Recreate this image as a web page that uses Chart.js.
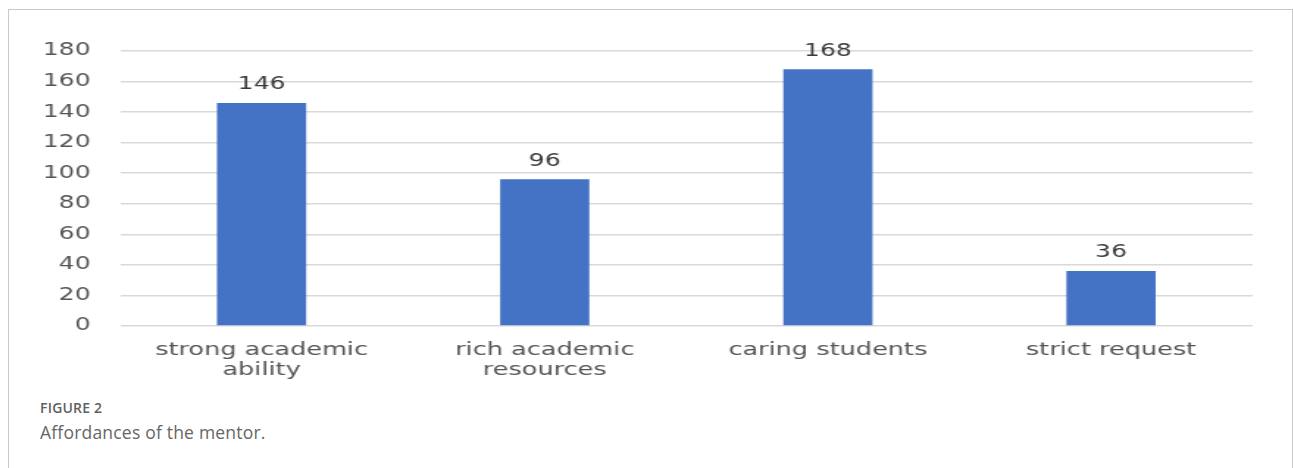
<!DOCTYPE html>
<html>
<head>
<meta charset="utf-8">
<script src="https://cdn.jsdelivr.net/npm/chart.js@4/dist/chart.umd.min.js"></script>
<style>
  html, body { margin: 0; padding: 0; background: #fff; }
  body { width: 1293px; height: 468px; overflow: hidden; position: relative; }
  #frame {
    position: absolute; left: 8px; top: 9px; width: 1285px; height: 470px;
    border: 1px solid #c9c9c9; box-sizing: border-box;
  }
  /* chart image in the source is stretched sideways, so the canvas is too */
  #chartBox {
    position: absolute; left: 9px; top: 11px; width: 872px; height: 380px;
    transform: scaleX(1.47); transform-origin: 0 0;
  }
  #figLabel {
    position: absolute; left: 40px; top: 398px;
    font: 600 14px "Open Sans", sans-serif; color: #606060; letter-spacing: 0.2px;
  }
  #caption {
    position: absolute; left: 40px; top: 420px;
    font: 17.5px "Open Sans", sans-serif; color: #666; letter-spacing: 0.2px;
  }
</style>
</head>
<body>
<div id="frame"></div>
<div id="chartBox"><canvas id="chart" width="872" height="380"></canvas></div>
<div id="figLabel">FIGURE 2</div>
<div id="caption">Affordances of the mentor.</div>
<script>
// Values.
const categories = [
  ['strong academic', 'ability'],
  ['rich academic', 'resources'],
  'caring students',
  'strict request',
];
const counts = [146, 96, 168, 36];
const yMax = 180;
const yStep = 20;

const barColor = '#4472C4';
const textGrey = '#555555';
const font = '"DejaVu Sans"';

// Draw the number above each bar (no datalabels plugin offline).
const valueLabels = {
  id: 'valueLabels',
  afterDatasetsDraw(chart) {
    const ctx = chart.ctx;
    const meta = chart.getDatasetMeta(0);
    ctx.save();
    ctx.font = '17px ' + font;
    ctx.fillStyle = '#3a3a3a';
    ctx.textAlign = 'center';
    ctx.textBaseline = 'middle';
    meta.data.forEach((bar, i) => {
      ctx.fillText(String(counts[i]), bar.x, bar.y - 18);
    });
    ctx.restore();
  },
};

const ctx = document.getElementById('chart').getContext('2d');
new Chart(ctx, {
  type: 'bar',
  data: {
    labels: categories,
    datasets: [
      {
        data: counts,
        backgroundColor: barColor,
        categoryPercentage: 1,
        barPercentage: 0.315,
      },
    ],
  },
  options: {
    responsive: false,
    animation: false,
    layout: { padding: { top: 40, right: 26, left: 0, bottom: 0 } },
    plugins: { legend: { display: false }, tooltip: { enabled: false } },
    scales: {
      x: {
        grid: { display: false },
        border: { display: false },
        ticks: {
          color: textGrey,
          font: { family: font, size: 17.4, lineHeight: 1.16 },
          padding: 6,
          maxRotation: 0,
          autoSkip: false,
        },
        afterFit: (axis) => { axis.height = 65; },
      },
      y: {
        min: 0,
        max: yMax,
        grid: { color: '#d9d9d9', lineWidth: 1.5, drawTicks: false, tickLength: 0 },
        border: { display: false },
        ticks: {
          stepSize: yStep,
          color: textGrey,
          font: { family: font, size: 17 },
          padding: 20,
        },
        afterFit: (axis) => { axis.width = 75.5; },
      },
    },
  },
  plugins: [valueLabels],
});
</script>
</body>
</html>
